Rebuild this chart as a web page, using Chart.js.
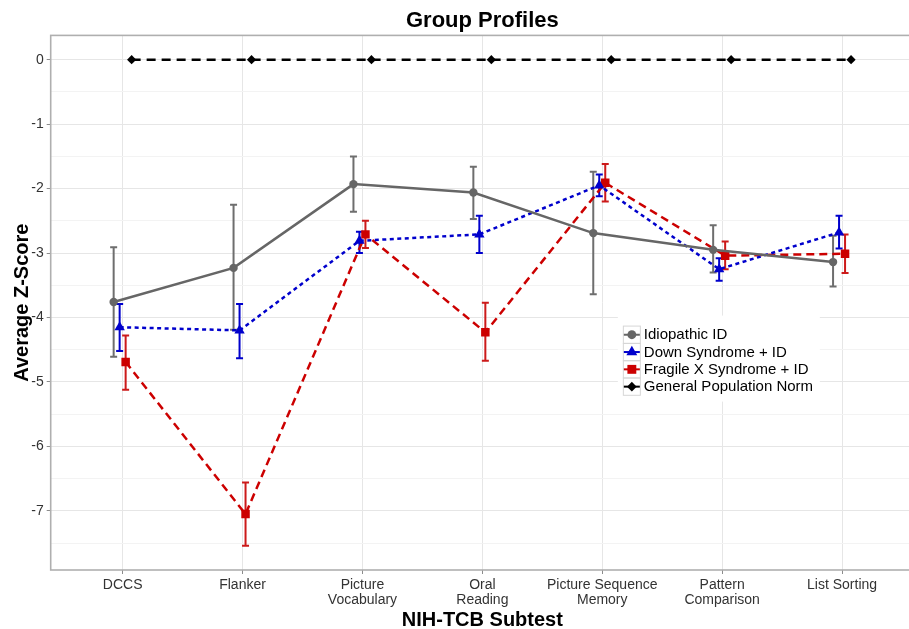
<!DOCTYPE html>
<html><head><meta charset="utf-8">
<script src="https://cdn.jsdelivr.net/npm/chart.js@4"></script>
<style>html,body{margin:0;padding:0;background:#fff;overflow:hidden}#wrap{width:909px;height:629px;overflow:hidden;position:relative;background:#fff}</style>
</head><body><div id="wrap"><canvas id="c" width="920" height="629" style="width:920px;height:629px"></canvas></div>
<script>
const categories = [['DCCS'],['Flanker'],['Picture','Vocabulary'],['Oral','Reading'],['Picture Sequence','Memory'],['Pattern','Comparison'],['List Sorting']];
const seriesNames = ['Idiopathic ID','Down Syndrome + ID','Fragile X Syndrome + ID','General Population Norm'];
const idioMean = [-3.76,-3.23,-1.93,-2.06,-2.69,-2.95,-3.14];
const idioLow  = [-4.61,-4.19,-2.36,-2.47,-3.64,-3.30,-3.52];
const idioHigh = [-2.91,-2.25,-1.50,-1.66,-1.74,-2.57,-2.73];
const downMean = [-4.15,-4.20,-2.81,-2.71,-1.95,-3.25,-2.68];
const downLow  = [-4.52,-4.63,-3.00,-3.00,-2.12,-3.43,-2.93];
const downHigh = [-3.79,-3.79,-2.67,-2.42,-1.78,-3.08,-2.42];
const fragMean = [-4.69,-7.05,-2.71,-4.23,-1.91,-3.04,-3.01];
const fragLow  = [-5.12,-7.54,-2.92,-4.67,-2.20,-3.25,-3.31];
const fragHigh = [-4.28,-6.56,-2.50,-3.77,-1.62,-2.82,-2.71];
const normMean = [0,0,0,0,0,0,0];
const yTickValues = [0,-1,-2,-3,-4,-5,-6,-7];

const FONT = "'Liberation Sans', Arial, Helvetica, sans-serif";
const dodge = [-0.075,-0.025,0.025,0.075];
function pts(arr, k){ return arr.map((v,i)=>({x:i+dodge[k], y:v})); }

const yTicks = [];
yTickValues.forEach(v=>{ yTicks.push(v); yTicks.push(v-0.5); });
yTicks.sort((a,b)=>a-b);

const errorBars = {
  id:'errorBars',
  beforeDatasetsDraw(chart){
    const {ctx, scales:{x,y}} = chart;
    chart.data.datasets.forEach(ds=>{
      if(!ds.errLow) return;
      ctx.save();
      ctx.strokeStyle = ds.errColor; ctx.lineWidth = 2; ctx.setLineDash([]);
      const cap = 3.5;
      ds.data.forEach((p,j)=>{
        const px = x.getPixelForValue(p.x);
        const y1 = y.getPixelForValue(ds.errLow[j]);
        const y2 = y.getPixelForValue(ds.errHigh[j]);
        ctx.beginPath();
        ctx.moveTo(px,y1); ctx.lineTo(px,y2);
        ctx.moveTo(px-cap,y1); ctx.lineTo(px+cap,y1);
        ctx.moveTo(px-cap,y2); ctx.lineTo(px+cap,y2);
        ctx.stroke();
      });
      ctx.restore();
    });
  }
};

const panelBorder = {
  id:'panelBorder',
  afterDraw(chart){
    const {ctx, chartArea:a} = chart;
    ctx.save();
    ctx.strokeStyle = '#AFAFAF'; ctx.lineWidth = 1.6;
    ctx.strokeRect(a.left, a.top, a.right-a.left, a.bottom-a.top);
    ctx.restore();
  }
};

const customLegend = {
  id:'customLegend',
  afterDraw(chart){
    const {ctx, scales:{x,y}} = chart;
    const left = x.getPixelForValue(4.13), top = y.getPixelForValue(-3.97);
    const rowH = 17.3, keyW = 17;
    ctx.save();
    ctx.fillStyle = '#fff';
    ctx.fillRect(left, top, 202, 86);
    chart.data.datasets.forEach((ds,i)=>{
      const ky = top + 10 + i*rowH;
      const kx = left + 5;
      ctx.strokeStyle = '#D6D6D6'; ctx.lineWidth = 1; ctx.setLineDash([]);
      ctx.strokeRect(kx+0.5, ky+0.5, keyW, rowH);
      const cy = ky + rowH/2 + 0.5, cx = kx + keyW/2 + 0.5;
      ctx.strokeStyle = ds.borderColor; ctx.lineWidth = 2;
      ctx.beginPath(); ctx.moveTo(kx+1, cy); ctx.lineTo(kx+keyW, cy); ctx.stroke();
      ctx.fillStyle = ds.pointBackgroundColor; ctx.strokeStyle = ds.pointBackgroundColor;
      Chart.helpers.drawPoint(ctx, {pointStyle: ds.pointStyle, radius: ds.pointRadius*1.05, rotation:0, borderWidth:0}, cx, cy);
      ctx.fillStyle = '#000';
      ctx.font = '15px ' + FONT;
      ctx.textAlign = 'left'; ctx.textBaseline = 'middle';
      ctx.fillText(seriesNames[i], kx + keyW + 4, cy + 0.5);
    });
    ctx.restore();
  }
};

function mkSet(k, mean, low, high, color, errColor, dash, style, r, lw){
  return {
    label: seriesNames[k], data: pts(mean,k), errLow: low, errHigh: high, errColor: errColor,
    borderColor: color, backgroundColor: color, pointBackgroundColor: color, pointBorderColor: color,
    borderWidth: lw, borderDash: dash, pointStyle: style, pointRadius: r, pointHoverRadius: r,
    pointBorderWidth: 0, tension: 0, fill: false
  };
}

const datasets = [
  mkSet(0, idioMean, idioLow, idioHigh, '#666666', '#6E6E6E', [], 'circle', 4.2, 2.5),
  mkSet(1, downMean, downLow, downHigh, '#0000CC', '#0000CC', [4,3.5], 'triangle', 6, 2.5),
  mkSet(2, fragMean, fragLow, fragHigh, '#CC0000', '#CC1A1A', [8,5], 'rect', 6, 2.5),
  mkSet(3, normMean, null, null, '#000000', null, [9,6], 'rectRot', 4.6, 2.5)
];

new Chart(document.getElementById('c'), {
  type: 'line',
  data: { datasets },
  plugins: [errorBars, panelBorder, customLegend],
  options: {
    responsive: false, animation: false, devicePixelRatio: 1,
    layout: { padding: { left: 0, right: 1, top: 0, bottom: 0 } },
    plugins: {
      legend: { display: false }, tooltip: { enabled: false },
      title: { display: true, text: 'Group Profiles', fullSize: false, color: '#000',
        font: { family: FONT, size: 22, weight: 'bold', lineHeight: 1.2 }, padding: { top: 8, bottom: 1 } }
    },
    scales: {
      x: {
        type: 'linear', min: -0.6, max: 6.6,
        afterBuildTicks: s => { s.ticks = categories.map((_,i)=>({value:i})); },
        afterFit: s => { s.height = 59; },
        ticks: { callback: v => categories[v], color: '#333', font: { family: FONT, size: 14, lineHeight: 1.12 }, padding: 3, maxRotation: 0, autoSkip: false },
        grid: { color: '#E6E6E6', lineWidth: 1, tickLength: 4, tickColor: '#8C8C8C' },
        border: { display: false },
        title: { display: true, text: 'NIH-TCB Subtest', color: '#000', font: { family: FONT, size: 20, weight: 'bold', lineHeight: 0.85 }, padding: { top: 0, bottom: 0 } }
      },
      y: {
        min: -7.917, max: 0.377,
        afterBuildTicks: s => { s.ticks = yTicks.map(v=>({value:v})); },
        afterFit: s => { s.width = 50.7; },
        ticks: { callback: v => Number.isInteger(v) ? String(v) : '', color: '#333', font: { family: FONT, size: 14 }, padding: 3, autoSkip: false },
        grid: {
          color: c => Number.isInteger(c.tick && c.tick.value) ? '#E6E6E6' : '#F3F3F3',
          tickColor: c => Number.isInteger(c.tick && c.tick.value) ? '#8C8C8C' : 'rgba(0,0,0,0)',
          lineWidth: 1, tickLength: 4
        },
        border: { display: false },
        title: { display: true, text: 'Average Z-Score', color: '#000', font: { family: FONT, size: 20, weight: 'bold', lineHeight: 1 }, padding: { top: 12, bottom: 0 } }
      }
    }
  }
});
</script></body></html>
